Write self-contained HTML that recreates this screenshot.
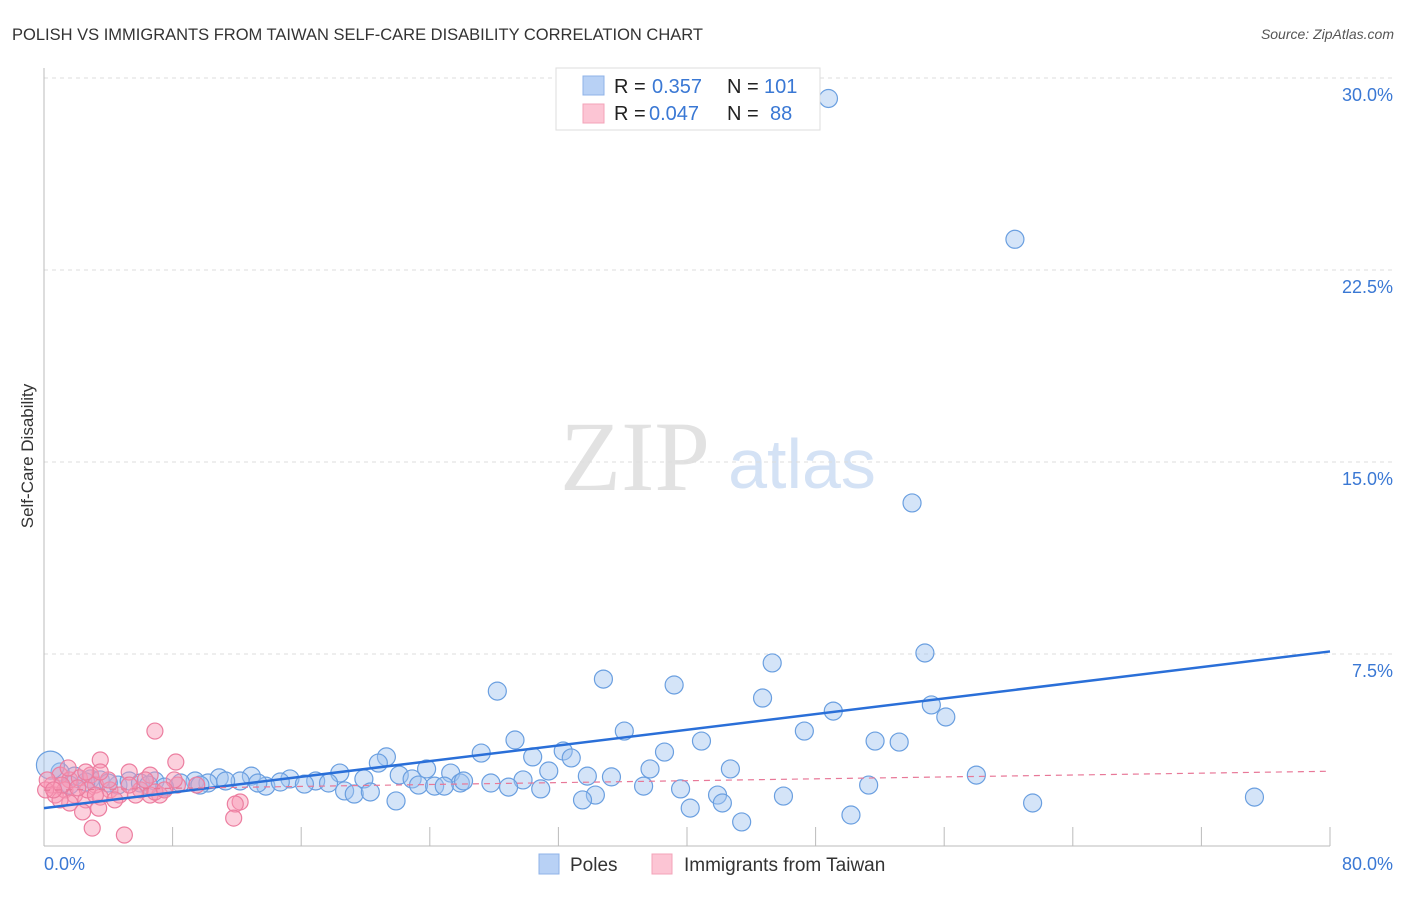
<!DOCTYPE html>
<html><head><meta charset="utf-8"><style>
body{margin:0;background:#fff;font-family:"Liberation Sans",sans-serif;}
svg text{font-family:"Liberation Sans",sans-serif;}
</style></head><body>
<svg id="chart" width="1406" height="892" xmlns="http://www.w3.org/2000/svg">
<text x="12" y="40" font-size="16.5" fill="#333">POLISH VS IMMIGRANTS FROM TAIWAN SELF-CARE DISABILITY CORRELATION CHART</text>
<text x="1394" y="39" font-size="14" fill="#555" text-anchor="end" font-style="italic">Source: ZipAtlas.com</text>
<text x="33" y="456" font-size="17" fill="#333" text-anchor="middle" transform="rotate(-90 33 456)">Self-Care Disability</text>
<g><text x="635" y="490" font-size="100" fill="#e2e2e2" text-anchor="middle" style="font-family:'Liberation Serif',serif">ZIP</text><text x="802" y="488" font-size="70" fill="#d4e2f5" text-anchor="middle">atlas</text></g>
<g id="grid"></g><g id="axes"></g><g id="pts"></g><g id="lines"></g>
<g>
<rect x="556" y="68" width="264" height="62" fill="#fff" stroke="#ddd"/>
<rect x="583" y="76" width="21" height="19" fill="#b8d1f5" stroke="#8fb3e8"/>
<rect x="583" y="104" width="21" height="19" fill="#fcc5d4" stroke="#f3a3b8"/>
<text x="614" y="93" font-size="20" fill="#222">R =</text><text x="652" y="93" font-size="20" fill="#3a78d4">0.357</text>
<text x="727" y="93" font-size="20" fill="#222">N =</text><text x="764" y="93" font-size="20" fill="#3a78d4">101</text>
<text x="614" y="120" font-size="20" fill="#222">R =</text><text x="649" y="120" font-size="20" fill="#3a78d4">0.047</text>
<text x="727" y="120" font-size="20" fill="#222">N =</text><text x="770" y="120" font-size="20" fill="#3a78d4">88</text>
</g>
<g>
<rect x="539" y="854" width="20" height="20" fill="#b8d1f5" stroke="#8fb3e8"/><text x="570" y="871" font-size="19" fill="#333">Poles</text>
<rect x="652" y="854" width="20" height="20" fill="#fcc5d4" stroke="#f3a3b8"/><text x="684" y="871" font-size="19" fill="#333">Immigrants from Taiwan</text>
</g>
</svg>
<script>
const yTicks=[7.5,15,22.5,30];
const yTickLabels=["7.5%","15.0%","22.5%","30.0%"];
const xTickVals=[0,8,16,24,32,40,48,56,64,72,80];
const polesX=[48.8,60.4,54.0,54.8,45.3,34.8,39.2,28.2,44.7,55.2,49.1,56.1,36.1,47.3,29.3,40.9,51.7,53.2,27.2,38.6,21.3,32.3,32.8,30.4,20.8,23.8,25.3,31.4,18.4,42.7,37.7,58.0,33.8,35.3,22.1,22.9,29.8,27.8,25.9,19.9,12.9,10.9,9.4,15.3,16.9,13.8,12.2,8.5,10.2,23.3,24.3,24.9,30.9,28.9,26.1,37.3,39.6,51.3,18.7,19.3,20.3,34.3,41.9,21.9,33.5,46.0,61.5,75.3,40.2,42.2,43.4,50.2,4.6,5.3,2.9,3.5,1.9,1.0,0.4,6.0,6.9,7.5,1.6,2.6,4.0,6.5,13.3,14.7,16.2,17.7,11.3,9.7];
const polesY=[29.2,23.7,13.4,7.54,7.15,6.52,6.29,6.05,5.78,5.51,5.27,5.04,4.49,4.49,4.14,4.10,4.10,4.06,3.63,3.67,3.48,3.71,3.44,3.48,3.24,3.01,2.85,2.93,2.85,3.01,3.01,2.77,2.73,2.70,2.77,2.62,2.58,2.46,2.46,2.62,2.73,2.66,2.54,2.62,2.54,2.34,2.54,2.46,2.46,2.38,2.34,2.34,2.23,2.30,2.54,2.34,2.23,2.38,2.15,2.03,2.11,1.99,1.99,1.76,1.80,1.95,1.68,1.91,1.48,1.68,0.94,1.21,2.38,2.54,2.62,2.58,2.73,2.89,3.16,2.46,2.54,2.30,2.38,2.50,2.46,2.38,2.46,2.50,2.42,2.46,2.54,2.38];
const taiwanX=[6.9,8.2,3.5,5.3,6.6,1.0,1.6,2.2,2.9,3.2,4.1,0.5,0.7,1.3,1.9,2.6,3.5,4.7,6.0,7.2,8.3,9.5,12.2,11.9,11.8,3.0,5.0,2.4,3.4,1.6,1.0,0.1,0.2,6.6,6.9,8.1,7.5,4.0,4.4,5.7,2.7,1.1,0.6,2.1,3.2,5.3,6.3,3.5,1.5,2.6];
const taiwanY=[4.49,3.28,3.36,2.89,2.77,2.77,2.58,2.66,2.77,2.38,2.19,2.38,1.99,2.19,1.99,1.80,1.91,1.99,2.19,1.99,2.38,2.38,1.72,1.64,1.09,0.70,0.43,1.33,1.48,1.68,1.80,2.19,2.58,1.99,2.11,2.58,2.19,2.58,1.80,1.99,2.19,2.38,2.19,2.27,1.99,2.38,2.58,2.89,3.05,2.89];
const polesTrend=[1.48,7.6];
const taiwanTrend=[2.18,2.92];
const NS="http://www.w3.org/2000/svg";
const X=v=>44+v/80*1286, Y=v=>846-v/7.5*192;
function mk(t,a,p){const e=document.createElementNS(NS,t);for(const k in a)e.setAttribute(k,a[k]);p.appendChild(e);return e;}
const grid=document.getElementById('grid'),axes=document.getElementById('axes'),pts=document.getElementById('pts'),lines=document.getElementById('lines');
yTicks.forEach((v,i)=>{
 const l=mk('line',{x1:44,x2:1394,y1:Y(v),y2:Y(v),stroke:'#ddd','stroke-dasharray':'4 4'},grid);
 
 
 const t=mk('text',{x:1393,y:Y(v)+23,'font-size':18,fill:'#3a78d4','text-anchor':'end'},axes);t.textContent=yTickLabels[i];
 
 
});
const ax=mk('line',{x1:44,x2:44,y1:68,y2:846,stroke:'#bbb'},axes);


const bx=mk('line',{x1:44,x2:1330,y1:846,y2:846,stroke:'#bbb'},axes);


xTickVals.forEach(v=>{const t=mk('line',{x1:X(v),x2:X(v),y1:827,y2:846,stroke:'#bbb'},axes);
 
 });
[["0.0%",44,'start'],["80.0%",1393,'end']].forEach(a=>{const t=mk('text',{x:a[1],y:870,'font-size':18,fill:'#3a78d4','text-anchor':a[2]},axes);t.textContent=a[0];
 
 });
polesX.forEach((v,i)=>{const c=mk('circle',{cx:X(v),cy:Y(polesY[i]),r:(i==78?14:9),fill:'rgba(160,195,240,0.45)',stroke:'#6a9fe0','stroke-width':1.2},pts);
 
 });
taiwanX.forEach((v,i)=>{const c=mk('circle',{cx:X(v),cy:Y(taiwanY[i]),r:8,fill:'rgba(248,150,180,0.45)',stroke:'#ec7ea0','stroke-width':1.2},pts);
 
 });
const l1=mk('line',{x1:X(0),y1:Y(polesTrend[0]),x2:X(80),y2:Y(polesTrend[1]),stroke:'#2a6fd8','stroke-width':2.5},lines);


const l2=mk('line',{x1:X(0),y1:Y(taiwanTrend[0]),x2:X(80),y2:Y(taiwanTrend[1]),stroke:'#e87898','stroke-width':1.2,'stroke-dasharray':'6 5'},lines);


</script>
</body></html>
